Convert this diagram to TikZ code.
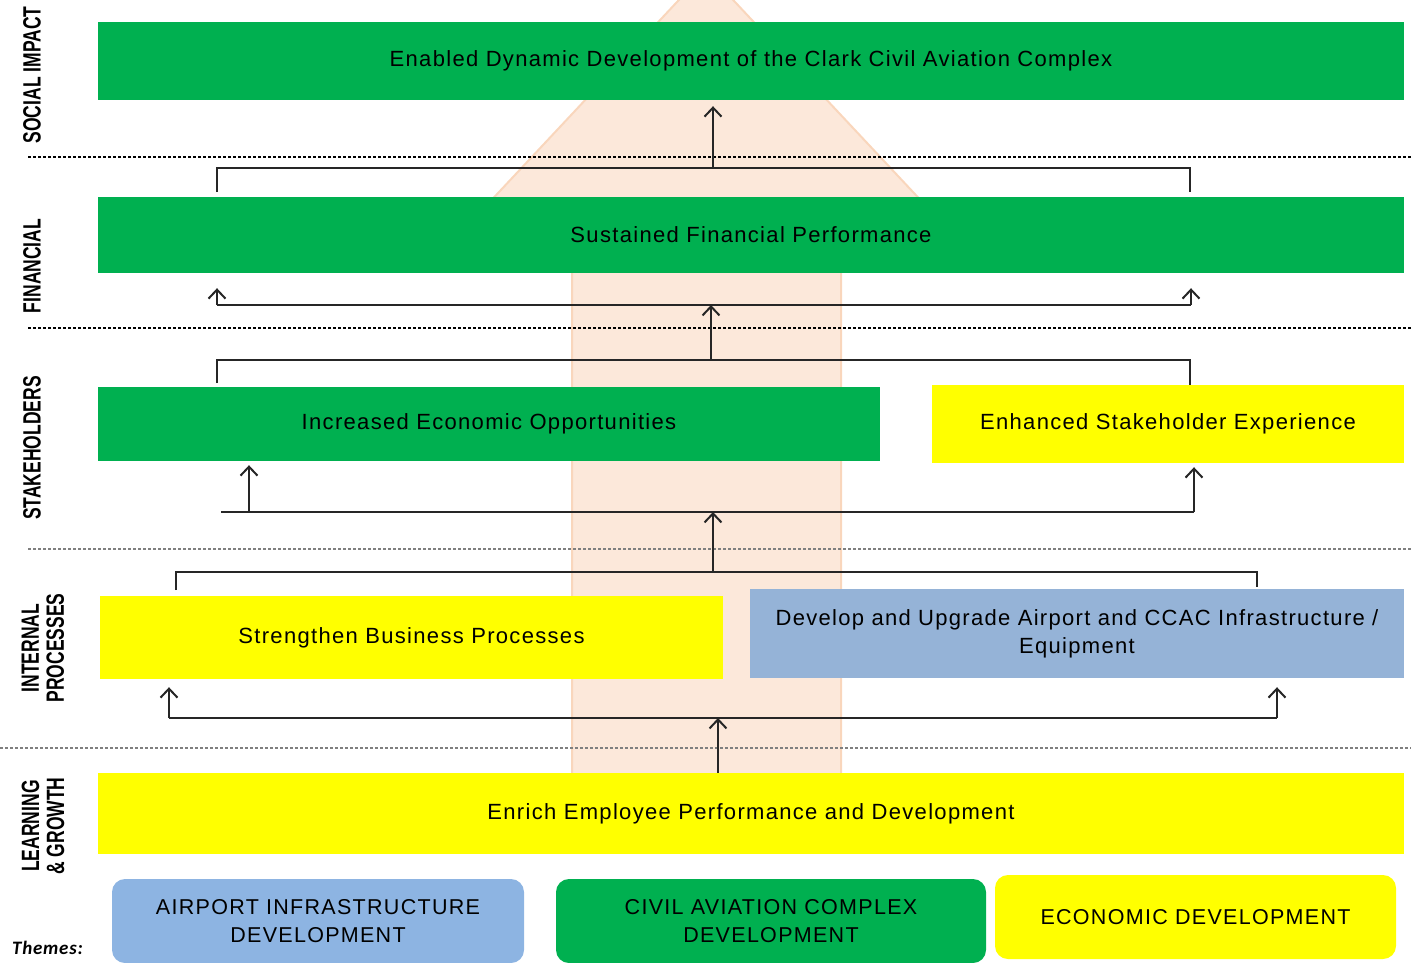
\documentclass[tikz,border=0pt]{standalone}
\usepackage{fontspec}
\setmainfont{Liberation Sans}
\newfontfamily\boxfont[LetterSpace=6]{Liberation Sans}
\newfontfamily\lblfont[FakeStretch=0.7]{Liberation Sans}
\newfontfamily\themesfont[LetterSpace=4]{Carlito}
\usetikzlibrary{arrows.meta}

\definecolor{bscgreen}{HTML}{00B050}
\definecolor{bscyellow}{HTML}{FFFF00}
\definecolor{bscblue}{HTML}{95B3D7}
\definecolor{themeblue}{HTML}{8DB4E2}
\definecolor{peach}{HTML}{FCE8DA}
\definecolor{peachline}{HTML}{F9D6BC}
\definecolor{linkgray}{HTML}{262626}
\definecolor{sepgray}{HTML}{7F7F7F}

\tikzset{
  bar/.style={rectangle, inner sep=0pt, align=center,
    font=\boxfont\fontsize{22}{28}\selectfont},
  theme/.style={bar, rounded corners=13pt, font=\boxfont\fontsize{21.5}{28}\selectfont},
  lane/.style={rotate=90, align=center,
    font=\lblfont\bfseries\fontsize{25}{25}\selectfont},
  link/.style={draw=linkgray, line width=2pt},
  uparrow/.style={link, -{Straight Barb[length=9pt,width=17pt,line width=2pt]}},
  sepline/.style={line width=1.3pt, dash pattern=on 3pt off 2pt},
}

\begin{document}
\begin{tikzpicture}[x=1pt,y=-1pt]
\useasboundingbox (0,0) rectangle (1411,962);
\clip (0,0) rectangle (1411,962);

% large background arrow
\filldraw[fill=peach, draw=peachline, line width=2pt]
  (572,775) -- (572,255) -- (440,255) -- (706,-29) -- (972,255)
  -- (841,255) -- (841,775) -- cycle;

% perspective separators
\draw[sepline, black] (28,157) -- (1411,157);
\draw[sepline, black] (28,328) -- (1411,328);
\draw[sepline, sepgray] (28,549) -- (1411,549);
\draw[sepline, sepgray] (0,748) -- (1411,748);

% perspective labels
\node[lane] (lsocial) at (32,75) {SOCIAL IMPACT};
\node[lane] (lfin) at (32,266) {FINANCIAL};
\node[lane] (lstake) at (32,448) {STAKEHOLDERS};
\node[lane] (lint) at (43,648) {INTERNAL\\PROCESSES};
\node[lane] (llearn) at (43,826) {LEARNING\\\& GROWTH};
\node[font=\themesfont\itshape\bfseries\fontsize{19}{19}\selectfont, anchor=west, inner sep=0pt]
  (themes) at (12,948) {Themes:};

% objectives
\node[bar, fill=bscgreen, minimum width=1306pt, minimum height=78pt] (enabled) at (751,61)
  {Enabled Dynamic Development of the Clark Civil Aviation Complex};
\node[bar, fill=bscgreen, minimum width=1306pt, minimum height=76pt] (sustained) at (751,235)
  {Sustained Financial Performance};
\node[bar, fill=bscgreen, minimum width=782pt, minimum height=74pt] (increased) at (489,424)
  {Increased Economic Opportunities};
\node[bar, fill=bscyellow, minimum width=472pt, minimum height=78pt] (enhanced) at (1168,424)
  {Enhanced Stakeholder Experience};
\node[bar, fill=bscyellow, minimum width=623pt, minimum height=83pt] (strengthen) at (411.5,637.5)
  {Strengthen Business Processes};
\node[bar, fill=bscblue, minimum width=654pt, minimum height=89pt, text width=640pt] (develop) at (1077,633.5)
  {Develop and Upgrade Airport and CCAC Infrastructure /\\Equipment};
\node[bar, fill=bscyellow, minimum width=1306pt, minimum height=81pt] (enrich) at (751,813.5)
  {Enrich Employee Performance and Development};

% themes
\node[theme, fill=themeblue, minimum width=412pt, minimum height=84pt] (airport) at (318,921)
  {AIRPORT INFRASTRUCTURE\\DEVELOPMENT};
\node[theme, fill=bscgreen, minimum width=430pt, minimum height=84pt] (civil) at (771,921)
  {CIVIL AVIATION COMPLEX\\DEVELOPMENT};
\node[theme, fill=bscyellow, minimum width=401pt, minimum height=84pt] (economic) at (1195.5,917)
  {ECONOMIC DEVELOPMENT};

% financial -> social impact
\coordinate (b1l) at (217,192);
\coordinate (b1r) at (1190,192);
\coordinate (b1m) at (713,168);
\draw[link] (b1l) -- (b1l |- b1m) -- (b1r |- b1m) -- (b1r);
\draw[uparrow, shorten >=6pt] (b1m) -- (b1m |- enabled.south);

% stakeholders -> financial
\coordinate (a2l) at (217,305);
\coordinate (a2r) at (1191,305);
\draw[link] (a2l) -- (a2r);
\draw[uparrow] (a2l) -- ([yshift=-15pt]a2l |- sustained.south);
\draw[uparrow] (a2r) -- ([yshift=-15pt]a2r |- sustained.south);
\coordinate (b2l) at (217,383);
\coordinate (b2m) at (711,360);
\draw[link] (b2l) -- (b2l |- b2m) -- (1190,360) -- (1190,360 |- enhanced.north);
\draw[uparrow] (b2m) -- (b2m |- a2l);

% internal processes -> stakeholders
\coordinate (a3l) at (221,512);
\coordinate (a3r) at (1194,512);
\draw[link] (a3l) -- (a3r);
\draw[uparrow] (249,512) -- ([yshift=-4pt]249,512 |- increased.south);
\draw[uparrow] (a3r) -- ([yshift=-4pt]a3r |- enhanced.south);
\coordinate (b3l) at (176,590);
\coordinate (b3r) at (1257,587);
\coordinate (b3m) at (713,572);
\draw[link] (b3l) -- (b3l |- b3m) -- (b3r |- b3m) -- (b3r);
\draw[uparrow] (b3m) -- (b3m |- a3l);

% learning & growth -> internal processes
\coordinate (a4l) at (169,718);
\coordinate (a4r) at (1277,718);
\draw[link] (a4l) -- (a4r);
\draw[uparrow] (a4l) -- ([yshift=-8pt]a4l |- strengthen.south);
\draw[uparrow] (a4r) -- ([yshift=-9pt]a4r |- develop.south);
\draw[uparrow] (enrich.north -| 718,0) -- (718,718);

\end{tikzpicture}
\end{document}
